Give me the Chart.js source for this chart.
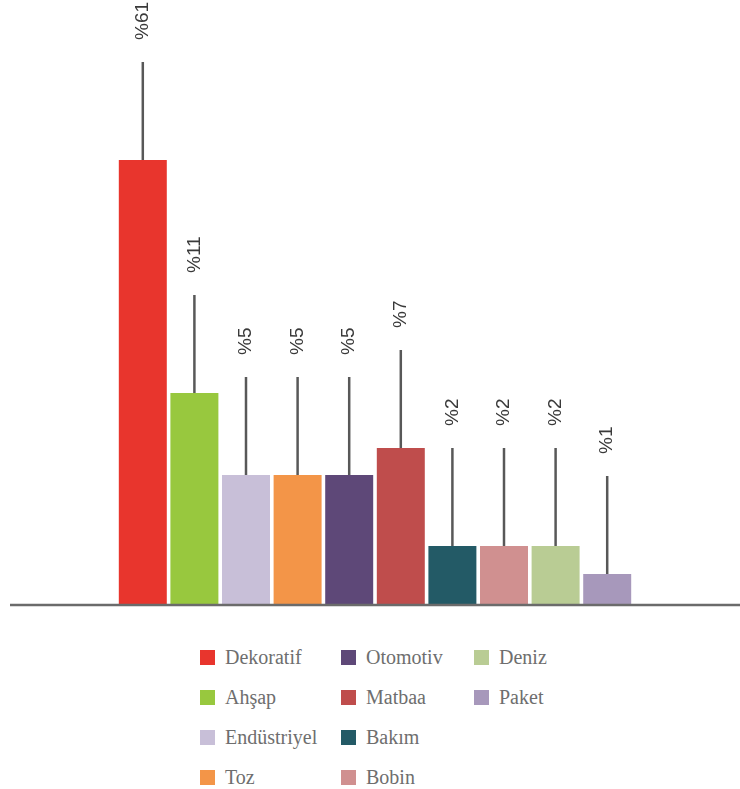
<!DOCTYPE html>
<html>
<head>
<meta charset="utf-8">
<script src="https://cdn.jsdelivr.net/npm/chart.js@4/dist/chart.umd.min.js"></script>
<style>
  body { margin: 0; background: #fff; width: 740px; height: 789px; position: relative; overflow: hidden; }
  #wrap { position: absolute; left: 0; top: 0; width: 740px; height: 615px; }
  #legend {
    position: absolute; left: 200px; top: 637px;
    display: grid; grid-template-rows: repeat(4, 40px); grid-auto-flow: column;
    grid-template-columns: 141px 133px 120px;
    font-family: "Liberation Serif", serif; font-size: 20px; color: #6e6e6e;
  }
  #legend div { display: flex; align-items: center; height: 40px; }
  #legend span { display: inline-block; width: 15px; height: 15px; margin-right: 10px; }
</style>
</head>
<body>
<div id="wrap"><canvas id="c" width="740" height="615"></canvas></div>
<div id="legend"></div>
<script>
// categories and values
var sectors = ['Dekoratif', 'Ahşap', 'Endüstriyel', 'Toz', 'Otomotiv', 'Matbaa', 'Bakım', 'Bobin', 'Deniz', 'Paket'];
var shares = ['%61', '%11', '%5', '%5', '%5', '%7', '%2', '%2', '%2', '%1'];
// drawn bar heights (the picture does not scale them linearly with the shares)
var barHeights = [445, 212, 130, 130, 130, 157, 59, 59, 59, 31];
var colors = ['#e8352d', '#98c83e', '#c8bfd8', '#f39548', '#5e4878', '#bf4d4c', '#235a66', '#d09090', '#b9cc94', '#a798bb'];

var leaderPlugin = {
    id: 'leaders',
    afterDatasetsDraw: function (chart) {
        var ctx = chart.ctx;
        var area = chart.chartArea;
        ctx.save();
        // base line
        ctx.strokeStyle = '#6b6b6b';
        ctx.lineWidth = 2.5;
        ctx.beginPath();
        ctx.moveTo(10, area.bottom);
        ctx.lineTo(740, area.bottom);
        ctx.stroke();
        chart.getDatasetMeta(0).data.forEach(function (bar, i) {
            var top = bar.y - 98;
            ctx.strokeStyle = '#585858';
            ctx.lineWidth = 2.5;
            ctx.beginPath();
            ctx.moveTo(bar.x, bar.y);
            ctx.lineTo(bar.x, top);
            ctx.stroke();
            ctx.save();
            ctx.translate(bar.x, top - 22);
            ctx.rotate(-Math.PI / 2);
            ctx.fillStyle = '#3a3a3a';
            ctx.font = '19px "Liberation Sans", Arial, sans-serif';
            ctx.textAlign = 'left';
            ctx.textBaseline = 'middle';
            ctx.fillText(shares[i], 0, 0);
            ctx.restore();
        });
        ctx.restore();
    }
};

new Chart(document.getElementById('c').getContext('2d'), {
    type: 'bar',
    data: {
        labels: sectors,
        datasets: [{
            data: barHeights,
            backgroundColor: colors,
            borderWidth: 0,
            barPercentage: 0.93,
            categoryPercentage: 1
        }]
    },
    options: {
        responsive: false,
        animation: false,
        layout: { padding: { left: 117, right: 107, top: 0, bottom: 10 } },
        plugins: { legend: { display: false }, tooltip: { enabled: false } },
        scales: {
            x: { display: false },
            y: { display: false, min: 0, max: 605 }
        }
    },
    plugins: [leaderPlugin]
});

var legend = document.getElementById('legend');
sectors.forEach(function (name, i) {
    var d = document.createElement('div');
    d.innerHTML = '<span style="background:' + colors[i] + '"></span>' + name;
    legend.appendChild(d);
});
</script>
</body>
</html>
